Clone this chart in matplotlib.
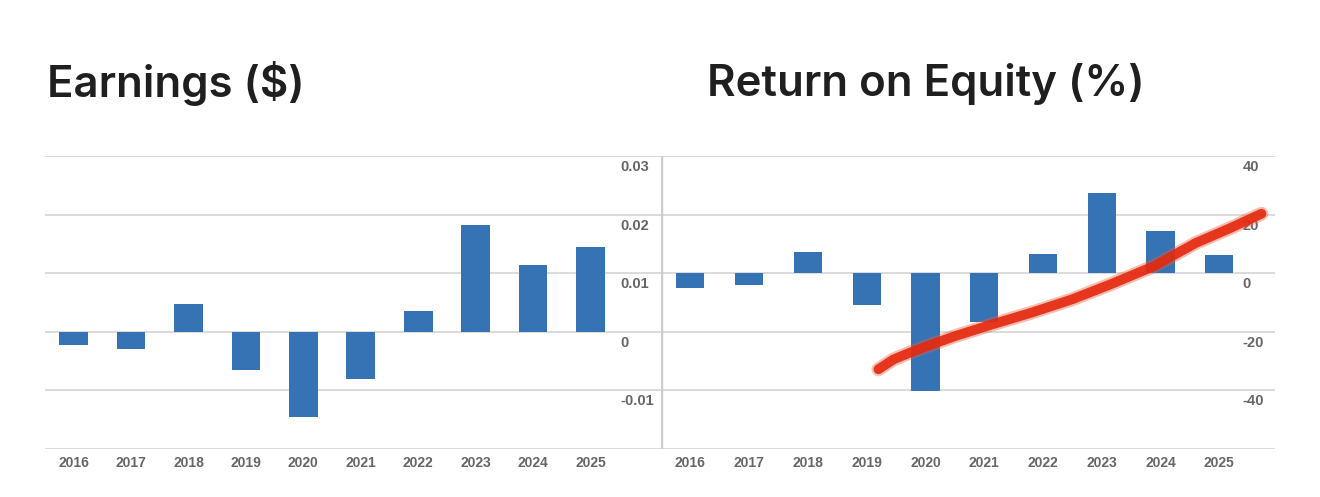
import matplotlib
matplotlib.use("Agg")
import matplotlib.pyplot as plt
from matplotlib import transforms

# DATA
years = ["2016", "2017", "2018", "2019", "2020", "2021", "2022", "2023", "2024", "2025"]
earnings = [-0.0022, -0.0029, 0.0047, -0.0066, -0.0145, -0.0080, 0.0036, 0.0183, 0.0114, 0.0145]
roe = [-5.1, -3.9, 7.2, -11.0, -40.3, -16.8, 6.7, 27.4, 14.4, 6.3]

earn_ticks = [-0.02, -0.01, 0, 0.01, 0.02, 0.03]
earn_labels = ["", "-0.01", "0", "0.01", "0.02", "0.03"]
roe_ticks = [-60, -40, -20, 0, 20, 40]
roe_labels = ["", "-40", "-20", "0", "20", "40"]

# hand-drawn red trend line (x in bar index units)
trend_x = [3.2, 3.3, 3.45, 3.7, 4.0, 4.5, 5.1, 5.8, 6.5, 7.2, 7.9, 8.6, 9.2, 9.72]
trend_y = [-32.8, -31.5, -29.5, -27.4, -25.1, -21.5, -17.7, -13.5, -8.9, -3.4, 2.5, 10.3, 15.5, 20.3]

blue = "#3673b5"
grid_c = "#dadada"
lab_c = "#666666"
lab_font = ["Liberation Sans Narrow", "Liberation Sans", "DejaVu Sans"]

fig = plt.figure(figsize=(13.2, 4.97), dpi=100)
W, H = 1320, 497


def panel(x0, x1, values, ticks, labels, xmax, label_x, width):
    ax = fig.add_axes([x0 / W, (H - 449) / H, (x1 - x0) / W, (449 - 156) / H])
    xs = list(range(len(values)))
    ax.bar(xs, values, width=width, color=blue, zorder=3)
    ax.set_xlim(-0.5, xmax)
    ax.set_ylim(ticks[0], ticks[-1])
    for t in ticks:
        ax.axhline(t, color=grid_c, lw=1.4, zorder=1)
    for s in ax.spines.values():
        s.set_visible(False)
    ax.set_xticks([])
    ax.set_yticks([])
    off = transforms.offset_copy(ax.transData, fig=fig, x=0, y=-4, units="dots")
    for t, lab in zip(ticks, labels):
        ax.text(label_x, t, lab, transform=off, ha="left", va="top",
                fontsize=10.5, color=lab_c, fontweight="bold", family=lab_font)
    offx = transforms.offset_copy(ax.get_xaxis_transform(), fig=fig, x=0, y=-7, units="dots")
    for i, y in enumerate(years):
        ax.text(i, 0, y, transform=offx, ha="center", va="top",
                fontsize=10, color=lab_c, fontweight="bold", family=lab_font)
    return ax


ax1 = panel(45, 661, earnings, earn_ticks, earn_labels, 10.23, 9.53, 0.5)
ax2 = panel(661, 1275, roe, roe_ticks, roe_labels, 9.95, 9.4, 0.48)
ax2.axvline(-0.5, color="#cccccc", lw=2.5, zorder=2)

ax2.plot(trend_x, trend_y, color="#f05a3c", lw=10, alpha=0.4,
         solid_capstyle="round", zorder=4)
ax2.plot(trend_x, trend_y, color="#e4290e", lw=7, alpha=0.9,
         solid_capstyle="round", zorder=5)

title_font = ["Inter", "DejaVu Sans"]
fig.text(47 / W, 1 - 84 / H, "Earnings ($)", ha="left", va="center",
         fontsize=31.5, color="#1f1f1f", family=title_font, fontweight="semibold")
fig.text(707 / W, 1 - 84 / H, "Return on Equity (%)", ha="left", va="center",
         fontsize=31.5, color="#1f1f1f", family=title_font, fontweight="semibold")

fig.savefig("out.png", dpi=100, facecolor="white")
